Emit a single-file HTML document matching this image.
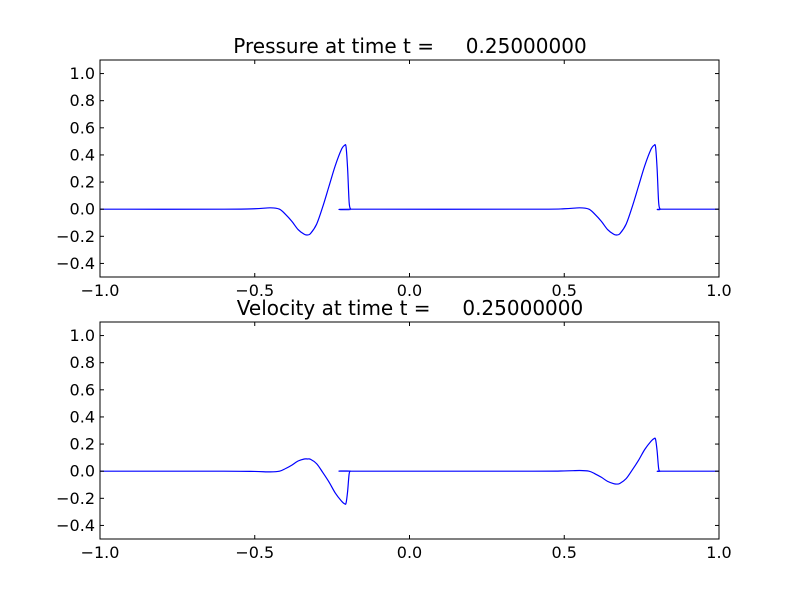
<!DOCTYPE html>
<html><head><meta charset="utf-8"><style>
body{margin:0;background:#fff}
svg text{font-family:"DejaVu Sans","Liberation Sans",sans-serif;fill:#000}
</style></head><body>
<svg id="fig" width="800" height="600" xmlns="http://www.w3.org/2000/svg"></svg>
<script>
const xs = [-1,-0.6,-0.5,-0.45,-0.42,-0.4,-0.38,-0.36,-0.34,-0.33,-0.32,-0.3,-0.28,-0.26,-0.24,-0.22,-0.21,-0.205,-0.2,-0.195,-0.19,-0.185,
 0.4,0.5,0.55,0.58,0.6,0.62,0.64,0.66,0.67,0.68,0.7,0.72,0.74,0.76,0.78,0.79,0.795,0.8,0.805,0.81,0.815,1.0];
const pressure = [0,0,0.003,0.01,0.0,-0.04,-0.09,-0.15,-0.185,-0.19,-0.18,-0.11,0.02,0.17,0.32,0.44,0.47,0.46,0.3,0.05,0.0,0,
 0,0.003,0.01,0.0,-0.04,-0.09,-0.15,-0.185,-0.19,-0.18,-0.11,0.02,0.17,0.32,0.44,0.47,0.46,0.3,0.05,0.0,0,0];
const velocity = [0,0,-0.002,-0.005,0,0.02,0.045,0.075,0.09,0.09,0.088,0.055,-0.01,-0.08,-0.16,-0.22,-0.24,-0.235,-0.15,-0.02,0,0,
 0,0.002,0.005,0,-0.02,-0.045,-0.075,-0.092,-0.095,-0.09,-0.055,0.01,0.08,0.16,0.22,0.24,0.235,0.15,0.02,0,0,0];
const xTicks = [-1.0,-0.5,0.0,0.5,1.0];
const yTicks = [-0.4,-0.2,0.0,0.2,0.4,0.6,0.8,1.0];
const titles = ["Pressure at time t =     0.25000000","Velocity at time t =     0.25000000"];

const NS="http://www.w3.org/2000/svg";
const svg=document.getElementById('fig');
function mk(tag,attrs,parent){const e=document.createElementNS(NS,tag);for(const k in attrs)e.setAttribute(k,attrs[k]);(parent||svg).appendChild(e);return e;}
function smooth(pts){
  let d='M'+pts[0][0].toFixed(2)+','+pts[0][1].toFixed(2);
  for(let i=0;i<pts.length-1;i++){
    const p0=pts[Math.max(0,i-1)],p1=pts[i],p2=pts[i+1],p3=pts[Math.min(pts.length-1,i+2)];
    const t=0.16;
    const c1=[p1[0]+(p2[0]-p0[0])*t,p1[1]+(p2[1]-p0[1])*t];
    const c2=[p2[0]-(p3[0]-p1[0])*t,p2[1]-(p3[1]-p1[1])*t];
    d+=' C'+c1.map(v=>v.toFixed(2)).join(',')+' '+c2.map(v=>v.toFixed(2)).join(',')+' '+p2[0].toFixed(2)+','+p2[1].toFixed(2);
  }
  return d;
}
const L=100,R=719,H=217;
const tops=[60,322];
const names=["pressure","velocity"];
[pressure,velocity].forEach((ser,i)=>{
  const T=tops[i],B=T+H;
  const g=mk('g',{});
  
  
  const sx=v=>L+(v+1)/2*(R-L);
  const sy=v=>B-(v+0.5)/1.6*H;
  const line=mk('path',{d:smooth(xs.map((x,j)=>[sx(x),sy(ser[j])])),fill:'none',stroke:'#0000ff','stroke-width':1.2,'stroke-linejoin':'round'},g);
  
  
  const fr=mk('rect',{x:L,y:T,width:R-L,height:H,fill:'none',stroke:'#000','stroke-width':1},g);
  
  
  xTicks.forEach(v=>{
    const x=sx(v);
    mk('line',{x1:x,x2:x,y1:B,y2:B-4,stroke:'#000'},g);
    mk('line',{x1:x,x2:x,y1:T,y2:T+4,stroke:'#000'},g);
    const t=mk('text',{x:x,y:B+19,'font-size':16,'text-anchor':'middle'},g);
    t.textContent=v.toFixed(1).replace('-','\u2212');
    
    
  });
  yTicks.forEach(v=>{
    const y=sy(v);
    mk('line',{x1:L,x2:L+4,y1:y,y2:y,stroke:'#000'},g);
    mk('line',{x1:R,x2:R-4,y1:y,y2:y,stroke:'#000'},g);
    const t=mk('text',{x:95,y:y+5.5,'font-size':16,'text-anchor':'end'},g);
    t.textContent=v.toFixed(1).replace('-','\u2212');
    
    
  });
  const tt=mk('text',{x:410,y:T-7,'font-size':20,'text-anchor':'middle','xml:space':'preserve'},g);
  tt.style.whiteSpace='pre';
  tt.textContent=titles[i];
  
  
});
</script>
</body></html>
